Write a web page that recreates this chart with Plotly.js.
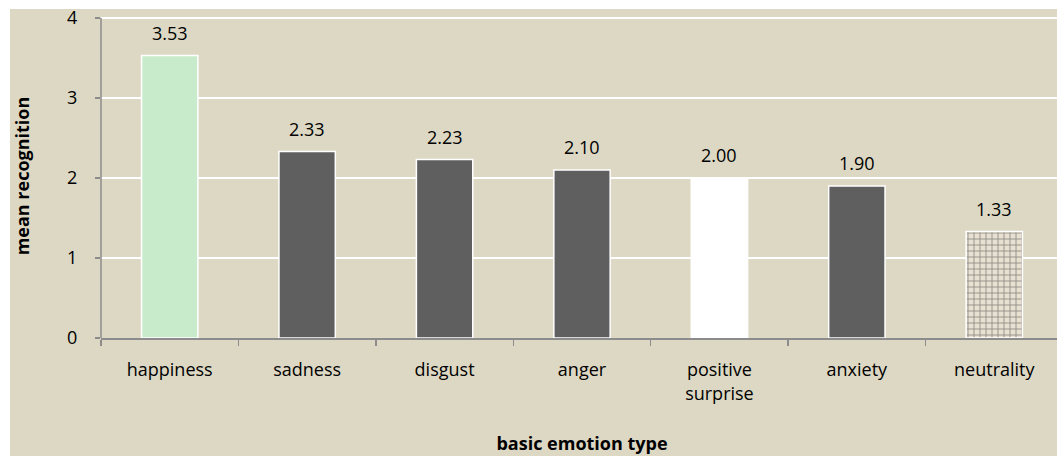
<!DOCTYPE html>
<html>
<head>
<meta charset="utf-8">
<script src="https://cdn.plot.ly/plotly-3.0.1.min.js"></script>
<style>
html,body{margin:0;padding:0;background:#ffffff;overflow:hidden;width:1057px;height:456px;}
#chart{position:absolute;left:0;top:0;width:1063px;height:456px;}
</style>
</head>
<body>
<div id="chart"></div>
<script>
const categories = ["happiness", "sadness", "disgust", "anger", "positive<br>surprise", "anxiety", "neutrality"];
const values = [3.53, 2.33, 2.23, 2.10, 2.00, 1.90, 1.33];
const valueLabels = ["3.53", "2.33", "2.23", "2.10", "2.00", "1.90", "1.33"];
const barColors = ["#c8ebcb", "#5f5f5f", "#5f5f5f", "#5f5f5f", "#ffffff", "#5f5f5f", "#e8e1d2"];
const patternShapes = ["", "", "", "", "", "", "+"];
const yTicks = [0, 1, 2, 3, 4];

const font = "Open Sans, Liberation Sans, sans-serif";
const beige = "#ddd8c4";

const trace = {
  type: "bar",
  x: categories,
  y: values,
  width: 0.41,
  marker: {
    color: barColors,
    line: {color: "#ffffff", width: 1.5},
    pattern: {shape: patternShapes, fillmode: "overlay", fgcolor: "#cdc0a8", size: 6, solidity: 0.3}
  },
  hoverinfo: "none"
};

const annotations = categories.map((c, i) => ({
  x: c, y: values[i], text: valueLabels[i], showarrow: false,
  yanchor: "bottom", yshift: 9,
  font: {family: font, size: 18, color: "#000000"}
}));

const yMax = yTicks[yTicks.length - 1];

const layout = {
  width: 1063, height: 456,
  margin: {l: 101, r: 0, t: 14, b: 118},
  paper_bgcolor: "#ffffff",
  plot_bgcolor: beige,
  showlegend: false,
  bargap: 0.59,
  font: {family: font, size: 18, color: "#000000"},
  xaxis: {
    type: "category",
    showline: true, linecolor: "#8c8c8c", linewidth: 1.5,
    ticks: "outside", tickson: "boundaries", ticklen: 6, tickcolor: "#8c8c8c", tickwidth: 1.5,
    showgrid: false,
    ticklabelstandoff: 15,
    tickfont: {family: font, size: 18, color: "#000000"},
    title: {text: "<b>basic emotion type</b>", font: {family: font, size: 18, color: "#000000"}, standoff: 34}
  },
  yaxis: {
    range: [0, 4.05],
    tickmode: "array", tickvals: yTicks, ticktext: yTicks.map(String),
    showline: false,
    ticks: "outside", ticklen: 5, tickcolor: "#8c8c8c", tickwidth: 1.5,
    showgrid: true, gridcolor: "#ffffff", gridwidth: 1.5,
    zeroline: false,
    ticklabeloverflow: "allow",
    ticklabelstandoff: 14,
    tickfont: {family: font, size: 18, color: "#000000"},
    title: {text: "<b>mean recognition</b>", font: {family: font, size: 18, color: "#000000"}, standoff: 32}
  },
  shapes: [{
    type: "rect", xref: "paper", yref: "paper", x0: -0.0946, x1: 1.02, y0: -0.4, y1: 1.0154,
    fillcolor: beige, line: {width: 0}, layer: "below"
  }, {
    type: "line", xref: "paper", yref: "y", x0: 0, x1: 0, y0: 0, y1: yMax,
    line: {color: "#8c8c8c", width: 1.5}, layer: "above"
  }, {
    type: "line", xref: "paper", yref: "y", x0: 0, x1: 1, y0: yMax, y1: yMax,
    line: {color: "#ffffff", width: 1.5}, layer: "below"
  }],
  annotations: annotations
};

Plotly.newPlot("chart", [trace], layout, {displayModeBar: false, staticPlot: true});
</script>
</body>
</html>
